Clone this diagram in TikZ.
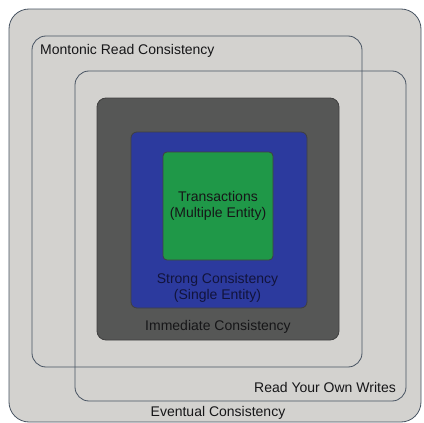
\documentclass[tikz,border=0pt]{standalone}
\usepackage{fontspec}
\setmainfont{Liberation Sans}
\usetikzlibrary{positioning}

\definecolor{ecfill}{RGB}{211,210,207}
\definecolor{lvledge}{RGB}{72,84,98}
\definecolor{imfill}{RGB}{86,87,86}
\definecolor{scfill}{RGB}{44,58,158}
\definecolor{trfill}{RGB}{31,152,72}
\definecolor{txtdark}{RGB}{22,22,24}
\definecolor{txtnavy}{RGB}{18,20,60}

\begin{document}
\begin{tikzpicture}[x=1pt, y=-1pt]
\tikzstyle{level}=[rectangle, rounded corners=14pt, draw=lvledge, line width=0.8pt, inner sep=0pt]
\tikzstyle{solid}=[level, draw=black!75]
\tikzstyle{txt}=[font=\fontsize{14}{15.5}\selectfont, align=center, inner sep=0pt, text=txtdark]

  \useasboundingbox (0,0) rectangle (424,423);
  \fill[white] (0,0) rectangle (424,423);

  % nested consistency levels
  \node[level, fill=ecfill, rounded corners=20pt, minimum width=412pt, minimum height=413pt] (eventual)  at (215,215.5) {};
  \node[level, minimum width=330pt, minimum height=331pt]                                    (monotonic) at (197,201.5) {};
  \node[level, minimum width=331pt, minimum height=330pt]                                    (ryow)      at (240.5,236) {};
  \node[solid, fill=imfill, rounded corners=9pt, minimum width=242pt, minimum height=242pt]  (immediate) at (218,219)   {};
  \node[solid, fill=scfill, rounded corners=6pt, minimum width=176pt, minimum height=176pt]  (strong)    at (219,220)   {};
  \node[solid, fill=trfill, rounded corners=4pt, minimum width=110pt, minimum height=108pt]  (trans)     at (218,206)   {};

  % labels
  \node[txt, anchor=west]  (monotonictxt) at (40,51)    {Montonic Read Consistency};
  \node[txt, anchor=east]  (ryowtxt)      at (396,387)  {Read Your Own Writes};
  \node[txt]               (eventualtxt)  at (218,413)  {Eventual Consistency};
  \node[txt]               (immediatetxt) at (218,327)  {Immediate Consistency};
  \node[txt, text=txtnavy] (strongtxt)    at (217.5,288) {Strong Consistency\\(Single Entity)};
  \node[txt]               (transtxt)     at (218,206)  {Transactions\\(Multiple Entity)};

\end{tikzpicture}
\end{document}
